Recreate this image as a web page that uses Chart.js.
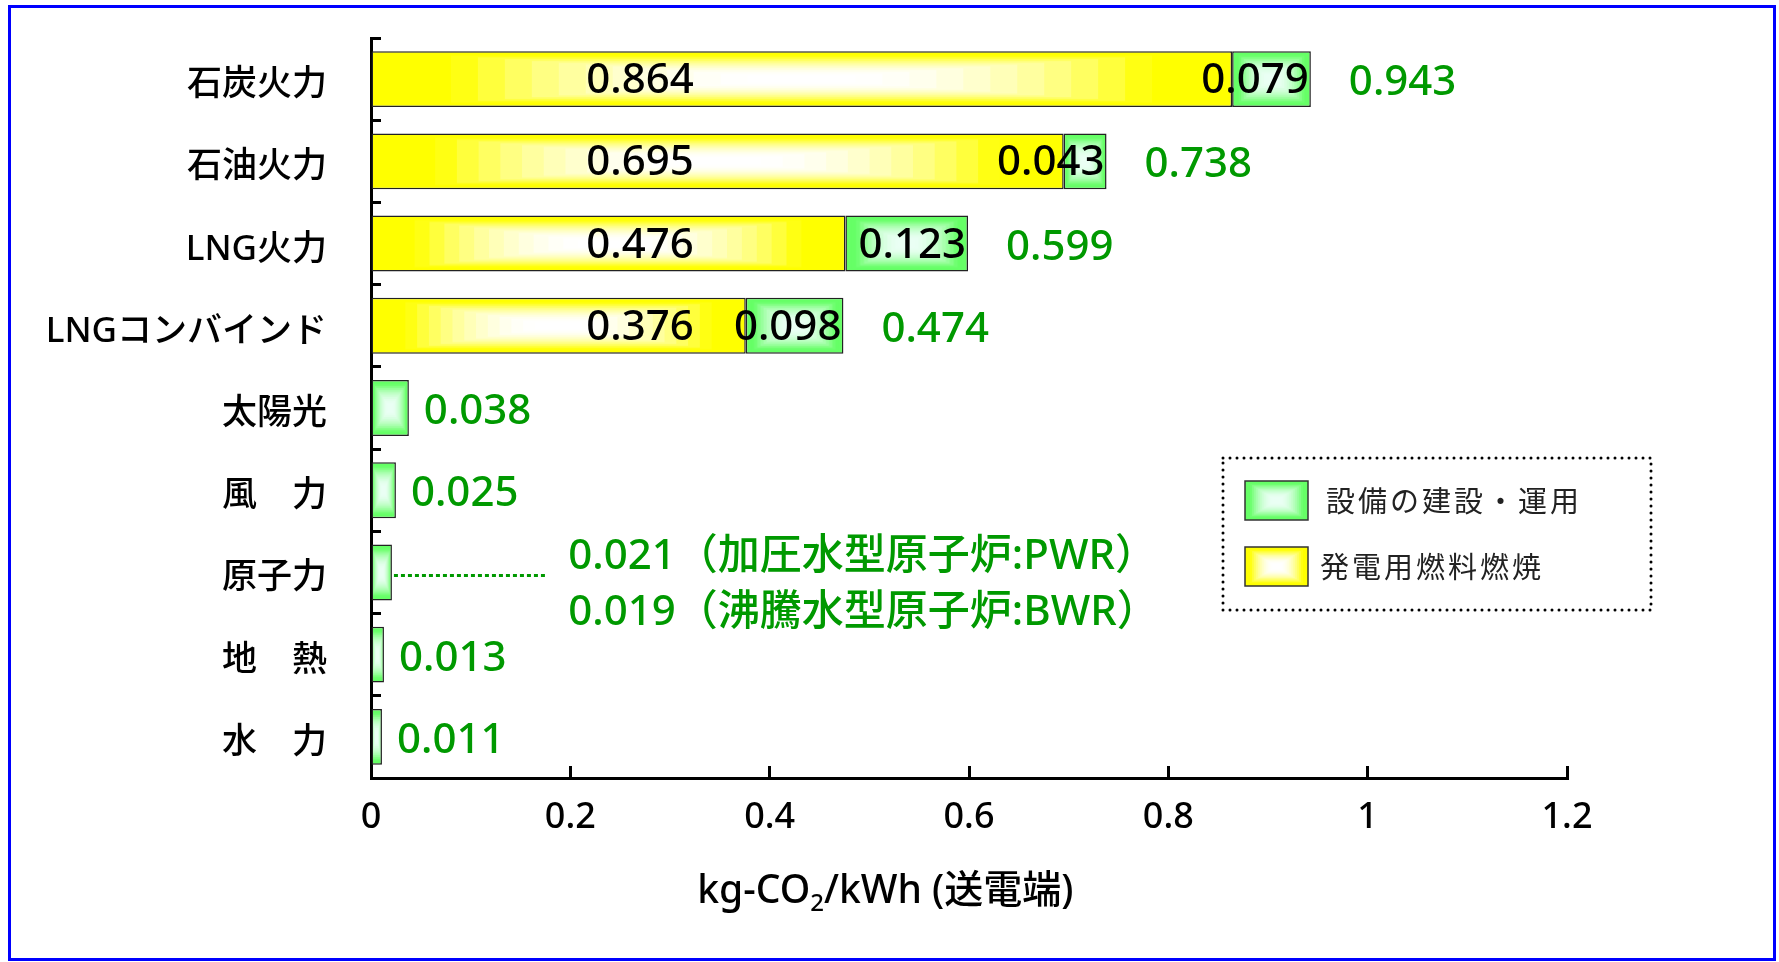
<!DOCTYPE html>
<html lang="ja">
<head>
<meta charset="utf-8">
<title>電源別ライフサイクルCO2排出量</title>
<script src="https://cdn.jsdelivr.net/npm/chart.js@4.4.1/dist/chart.umd.min.js"></script>
<style>
  html, body { margin: 0; padding: 0; background: #fff; overflow: hidden; }
  #wrap { width: 1779px; height: 962px; position: relative; }
</style>
</head>
<body>
<div id="wrap"><canvas id="co2" width="1779" height="962"></canvas></div>
<script>
// 電源別 CO2 排出量 (kg-CO2/kWh, 送電端)
const sources        = ['石炭火力', '石油火力', 'LNG火力', 'LNGコンバインド', '太陽光', '風　力', '原子力', '地　熱', '水　力'];
const fuelCombustion = [0.864, 0.695, 0.476, 0.376, null, null, null, null, null];
const facilityOps    = [0.079, 0.043, 0.123, 0.098, 0.038, 0.025, 0.021, 0.013, 0.011];
const totals         = [0.943, 0.738, 0.599, 0.474, 0.038, 0.025, null, 0.013, 0.011];
const nuclearNotes   = ['0.021（加圧水型原子炉:PWR）', '0.019（沸騰水型原子炉:BWR）'];
const xTickLabels    = ['0', '0.2', '0.4', '0.6', '0.8', '1', '1.2'];
const seriesNames    = ['発電用燃料燃焼', '設備の建設・運用'];
const axisTitle      = ['kg-CO', '2', '/kWh (送電端)'];

// styling
const FONT = '"Noto Sans", "Noto Sans CJK JP", sans-serif';
const GREEN_TEXT = '#009900';
const FUEL_EDGE = [255, 255, 0],  FUEL_CENTER = [255, 255, 255];
const FAC_EDGE  = [102, 255, 102], FAC_CENTER = [234, 255, 244];
const BAR_FRACTION = 0.68;
const FUEL_LABEL_AT = 0.27;   // where the fuel value is written, in axis units
const NOTE_LEADER_TO = 0.175; // end of the dotted leader for 原子力
const NOTE_TEXT_AT = 0.198;

// rectangular "box" gradient: edge colour at the border, fading to the centre colour
function boxGradientCanvas(w, h, edge, center) {
  const c = document.createElement('canvas');
  c.width = Math.max(2, Math.round(w));
  c.height = Math.max(2, Math.round(h));
  const g = c.getContext('2d');
  const steps = 16;
  for (let k = 0; k < steps; k++) {
    const t = 1 - k / steps;
    const m = Math.pow(Math.min(1, Math.max(0, (t - 0.12) / 0.72)), 2);
    const col = edge.map((e, j) => Math.round(center[j] + (e - center[j]) * m));
    const ix = (k / steps) * c.width / 2, iy = (k / steps) * c.height / 2;
    g.fillStyle = `rgb(${col.join(',')})`;
    g.fillRect(ix, iy, c.width - 2 * ix, c.height - 2 * iy);
  }
  return c;
}
function boxPattern(ctx, x, y, w, h, edge, center) {
  if (![x, y, w, h].every(Number.isFinite) || w <= 0 || h <= 0) return `rgb(${edge.join(',')})`;
  const p = ctx.createPattern(boxGradientCanvas(w + 2, h + 2, edge, center), 'no-repeat');
  p.setTransform(new DOMMatrix([1, 0, 0, 1, x - 1, y - 1]));
  return p;
}
function barFill(edge, center) {
  return (c) => {
    const chart = c.chart, xs = chart.scales.x, ys = chart.scales.y;
    if (c.type !== 'data' || !xs || !ys || !(ys.height > 0)) return `rgb(${edge.join(',')})`;
    const i = c.dataIndex;
    const v = chart.data.datasets[c.datasetIndex].data[i];
    if (v == null) return 'rgba(0,0,0,0)';
    const start = c.datasetIndex === 0 ? 0 : (fuelCombustion[i] || 0);
    const x0 = xs.getPixelForValue(start), x1 = xs.getPixelForValue(start + v);
    const h = (ys.height / sources.length) * BAR_FRACTION;
    const yc = ys.getPixelForValue(i);
    return boxPattern(chart.ctx, x0, yc - h / 2, x1 - x0, h, edge, center);
  };
}

// numbers inside and beside the bars, plus the note for 原子力
const valueLabels = {
  id: 'valueLabels',
  afterDatasetsDraw(chart) {
    const { ctx } = chart;
    const xs = chart.scales.x;
    const fuelMeta = chart.getDatasetMeta(0), facMeta = chart.getDatasetMeta(1);
    ctx.save();
    ctx.textBaseline = 'middle';
    ctx.font = `500 42px ${FONT}`;
    ctx.fillStyle = '#000';
    fuelMeta.data.forEach((bar, i) => {
      if (fuelCombustion[i] == null) return;
      ctx.textAlign = 'center';
      ctx.fillText(fuelCombustion[i].toFixed(3), xs.getPixelForValue(FUEL_LABEL_AT), bar.y + 2);
      const fb = facMeta.data[i];
      ctx.textAlign = 'right';
      ctx.fillText(facilityOps[i].toFixed(3), fb.x - 2, fb.y + 2);
    });
    ctx.fillStyle = GREEN_TEXT;
    ctx.textAlign = 'left';
    facMeta.data.forEach((bar, i) => {
      if (totals[i] == null) return;
      const gap = fuelCombustion[i] == null ? 15 : 38;
      ctx.fillText(totals[i].toFixed(3), bar.x + gap, bar.y + 4);
    });
    const n = sources.indexOf('原子力');
    const nb = facMeta.data[n];
    ctx.strokeStyle = GREEN_TEXT;
    ctx.lineWidth = 3;
    ctx.setLineDash([4, 3]);
    ctx.beginPath();
    ctx.moveTo(nb.x + 2, nb.y + 3);
    ctx.lineTo(xs.getPixelForValue(NOTE_LEADER_TO), nb.y + 3);
    ctx.stroke();
    ctx.setLineDash([]);
    ctx.fillText(nuclearNotes[0], xs.getPixelForValue(NOTE_TEXT_AT), nb.y - 15);
    ctx.fillText(nuclearNotes[1], xs.getPixelForValue(NOTE_TEXT_AT), nb.y + 41);
    ctx.restore();
  }
};

// axis title with subscript, legend box, outer frame
const decorations = {
  id: 'decorations',
  afterDraw(chart) {
    const { ctx } = chart;
    const xs = chart.scales.x;
    ctx.save();
    // axis title
    ctx.fillStyle = '#000';
    ctx.textBaseline = 'alphabetic';
    ctx.textAlign = 'left';
    const big = `500 39px ${FONT}`, small = `500 24px ${FONT}`;
    ctx.font = big; const w0 = ctx.measureText(axisTitle[0]).width;
    ctx.font = small; const w1 = ctx.measureText(axisTitle[1]).width;
    ctx.font = big; const w2 = ctx.measureText(axisTitle[2]).width;
    const cx = xs.getPixelForValue(0.516);
    let tx = cx - (w0 + w1 + w2) / 2;
    const ty = 903;
    ctx.font = big; ctx.fillText(axisTitle[0], tx, ty); tx += w0;
    ctx.font = small; ctx.fillText(axisTitle[1], tx, ty + 8); tx += w1;
    ctx.font = big; ctx.fillText(axisTitle[2], tx, ty);

    // legend
    const bx = 1223, by = 458, bw = 428, bh = 152;
    ctx.strokeStyle = '#000';
    ctx.lineWidth = 3;
    ctx.lineCap = 'round';
    ctx.setLineDash([0, 7]);
    ctx.strokeRect(bx, by, bw, bh);
    ctx.setLineDash([]);
    ctx.lineCap = 'butt';
    const items = [
      { name: chart.data.datasets[1].label, edge: FAC_EDGE, center: FAC_CENTER, y: 481, tx: 1326 },
      { name: chart.data.datasets[0].label, edge: FUEL_EDGE, center: FUEL_CENTER, y: 547, tx: 1320 }
    ];
    ctx.font = `400 29px "Noto Sans CJK JP", ${FONT}`;
    ctx.textBaseline = 'middle';
    ctx.letterSpacing = '3px';
    items.forEach(it => {
      const sw = 63, sh = 39;
      ctx.fillStyle = boxPattern(ctx, 1245, it.y, sw, sh, it.edge, it.center);
      ctx.fillRect(1245, it.y, sw, sh);
      ctx.lineWidth = 1.5;
      ctx.strokeStyle = '#333';
      ctx.strokeRect(1245, it.y, sw, sh);
      ctx.fillStyle = '#222';
      ctx.fillText(it.name, it.tx, it.y + sh / 2);
    });
    ctx.letterSpacing = '0px';

    // outer frame
    ctx.strokeStyle = '#0000ff';
    ctx.lineWidth = 3;
    ctx.strokeRect(9.5, 6.5, 1765, 953);
    ctx.restore();
  }
};

new Chart(document.getElementById('co2'), {
  type: 'bar',
  data: {
    labels: sources,
    datasets: [
      {
        label: seriesNames[0],
        data: fuelCombustion,
        backgroundColor: barFill(FUEL_EDGE, FUEL_CENTER),
        borderColor: '#222',
        borderWidth: 1.5,
        borderSkipped: false
      },
      {
        label: seriesNames[1],
        data: facilityOps,
        backgroundColor: barFill(FAC_EDGE, FAC_CENTER),
        borderColor: '#222',
        borderWidth: 1.5,
        borderSkipped: false
      }
    ]
  },
  options: {
    indexAxis: 'y',
    responsive: false,
    devicePixelRatio: 1,
    animation: false,
    events: [],
    barPercentage: BAR_FRACTION,
    categoryPercentage: 1,
    layout: { padding: { top: 38, right: 212, bottom: 0, left: 0 } },
    plugins: {
      legend: { display: false },
      tooltip: { enabled: false },
      title: { display: false }
    },
    scales: {
      x: {
        stacked: true,
        min: 0,
        max: 1.2,
        border: { display: true, color: '#000', width: 3 },
        grid: { drawOnChartArea: false, drawTicks: true, tickLength: -12, tickWidth: 3, tickColor: '#000' },
        ticks: {
          stepSize: 0.2,
          padding: 30,
          color: '#000',
          font: { family: FONT, size: 36, weight: '500' },
          maxRotation: 0,
          callback: (v, i) => xTickLabels[i]
        },
        afterFit: (s) => { s.height = 184; s.paddingLeft = 0; s.paddingRight = 0; }
      },
      y: {
        stacked: true,
        border: { display: true, color: '#000', width: 3 },
        grid: { drawOnChartArea: false, drawTicks: true, tickLength: -10, tickWidth: 3, tickColor: '#000', offset: true },
        ticks: {
          padding: 54,
          labelOffset: 6,
          color: '#000',
          autoSkip: false,
          font: { family: FONT, size: 35, weight: '500' }
        },
        afterFit: (s) => { s.width = 371; s.paddingTop = 0; s.paddingBottom = 0; }
      }
    }
  },
  plugins: [valueLabels, decorations]
});
</script>
</body>
</html>
